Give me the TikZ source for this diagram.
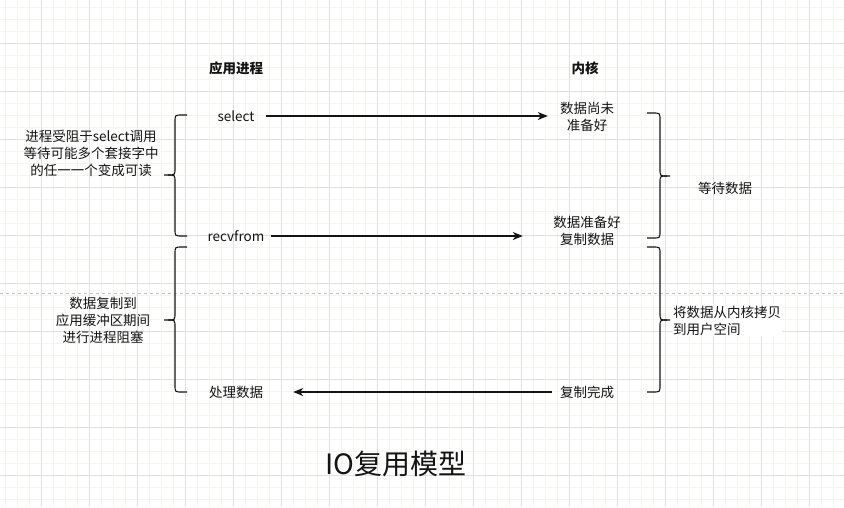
\documentclass[tikz,border=0pt]{standalone}
\usepackage{fontspec}
\setmainfont{Noto Sans CJK SC}
\usetikzlibrary{arrows.meta}
\definecolor{gridmajor}{RGB}{224,224,220}
\definecolor{gridminor}{RGB}{244,244,241}
\definecolor{pagebreak}{RGB}{192,192,192}
\definecolor{ink}{RGB}{20,20,20}
\tikzset{
  lbl/.style={inner sep=0pt, font=\fontsize{13.5}{17}\selectfont, text=ink, align=center},
  head/.style={inner sep=0pt, font=\fontsize{13.5}{17}\selectfont\bfseries, text=ink},
  conn/.style={draw=ink, line width=1.2pt, -{Stealth[length=10pt,width=8pt,inset=3pt]}},
  brace/.style={draw=ink, line width=1.1pt},
}
\begin{document}
\begin{tikzpicture}[x=1pt,y=-1pt]
\useasboundingbox (0,0) rectangle (844,507);
\fill[white] (0,0) rectangle (844,507);
% grid
\foreach \i in {0,...,70} {
  \draw[gridminor, line width=0.8pt] ({5.5+12*\i},0) -- ({5.5+12*\i},507);
}
\foreach \i in {0,...,42} {
  \draw[gridminor, line width=0.8pt] (0,{7+12*\i}) -- (844,{7+12*\i});
}
\foreach \i in {0,...,17} {
  \draw[gridmajor, line width=1pt] ({41.5+48*\i},0) -- ({41.5+48*\i},507);
}
\foreach \i in {0,...,10} {
  \draw[gridmajor, line width=1pt] (0,{43+48*\i}) -- (844,{43+48*\i});
}
% page break line
\draw[pagebreak, line width=0.8pt, dash pattern=on 3pt off 3pt] (0,293) -- (844,293);

% headings
\node[head] (app) at (236,68) {应用进程};
\node[head] (kern) at (585,68) {内核};

% application side
\node[lbl, minimum width=60pt] (sel) at (236,116) {select};
\node[lbl, minimum width=70pt] (recv) at (236,236) {recvfrom};
\node[lbl, minimum width=114pt] (proc) at (236,392) {处理数据};

% kernel side
\node[lbl, minimum width=78pt] (k1) at (587,117) {数据尚未\\准备好};
\node[lbl, minimum width=128pt] (k2) at (587,231) {数据准备好\\复制数据};
\node[lbl, minimum width=70pt] (k3) at (587,392) {复制完成};

% arrows
\draw[conn] (sel.east) -- (sel.east -| k1.west);
\draw[conn] (recv.east) -- (recv.east -| k2.west);
\draw[conn] (k3.west) -- (proc.east);

% left braces
\draw[brace] (187,115) -- (182,115) .. controls (175,115) .. (175,122) -- (175,168)
  .. controls (175,175) .. (168,175) -- (164,175);
\draw[brace] (168,175) .. controls (175,175) .. (175,182) -- (175,229)
  .. controls (175,236) .. (182,236) -- (187,236);
\draw[brace] (187,247) -- (182,247) .. controls (175,247) .. (175,254) -- (175,313)
  .. controls (175,320) .. (168,320) -- (164,320);
\draw[brace] (168,320) .. controls (175,320) .. (175,327) -- (175,385)
  .. controls (175,392) .. (182,392) -- (187,392);

% right braces
\draw[brace] (647,113) -- (653,113) .. controls (660,113) .. (660,120) -- (660,169)
  .. controls (660,176) .. (667,176) -- (670,176);
\draw[brace] (667,176) .. controls (660,176) .. (660,183) -- (660,231)
  .. controls (660,238) .. (653,238) -- (647,238);
\draw[brace] (647,247) -- (653,247) .. controls (660,247) .. (660,254) -- (660,313)
  .. controls (660,320) .. (667,320) -- (670,320);
\draw[brace] (667,320) .. controls (660,320) .. (660,327) -- (660,385)
  .. controls (660,392) .. (653,392) -- (647,392);

% brace labels
\node[lbl] (l1) at (91,153) {进程受阻于select调用\\等待可能多个套接字中\\的任一一个变成可读};
\node[lbl] (l2) at (103,320) {数据复制到\\应用缓冲区期间\\进行进程阻塞};
\node[lbl] (r1) at (725,188) {等待数据};
\node[lbl, align=left, anchor=west, fill=white, inner sep=1pt] (r2) at (672,320.5) {将数据从内核拷贝\\到用户空间};

% title
\node[inner sep=0pt, font=\fontsize{28}{32}\selectfont, text=ink] (title) at (396,464) {IO复用模型};
\end{tikzpicture}
\end{document}
